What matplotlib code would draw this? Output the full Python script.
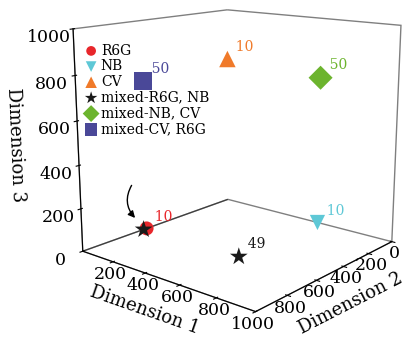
import matplotlib
matplotlib.use("Agg")
import matplotlib.pyplot as plt
import numpy as np

# data: (Dimension 1, Dimension 2, Dimension 3)
classes = ["R6G", "NB", "CV", "mixed-R6G, NB", "mixed-NB, CV", "mixed-CV, R6G"]
dim1 = [[0], [580], [0], [0, 580], [580], [0]]
dim2 = [[600], [0], [0], [620, 600], [0], [600]]
dim3 = [[0], [0], [750], [0, 0], [720], [720]]
counts = [["10"], ["10"], ["10"], ["", "49"], ["50"], ["50"]]

markers = ["o", "v", "^", "*", "D", "s"]
colors = ["#e8262b", "#5ec8d6", "#f07a2a", "#1a1a1a", "#6cb42e", "#4a4898"]
sizes = [100, 120, 140, 180, 150, 170]

plt.rcParams["font.family"] = ["DejaVu Serif"]

fig = plt.figure(figsize=(4.09, 3.39), dpi=100)
ax = fig.add_axes([0.073, 0.012, 1.0, 1.12], projection="3d")
ax.set_proj_type("persp", focal_length=0.45)
ax.set_box_aspect((1, 1, 1.0), zoom=1.0)

for i, name in enumerate(classes):
    # x = Dimension 2, y = Dimension 1
    ax.scatter(dim2[i], dim1[i], dim3[i], marker=markers[i], s=sizes[i],
               c=colors[i], depthshade=False, label=name, edgecolors="none")
    for d1, d2, d3, t in zip(dim1[i], dim2[i], dim3[i], counts[i]):
        if t:
            ax.text(d2, d1, d3 + 40, "  " + t, color=colors[i], fontsize=10)

ax.set_xlim(0, 1000)
ax.set_ylim(0, 1000)
ax.set_zlim(0, 1000)
ax.set_xticks([0, 200, 400, 600, 800])
ax.set_yticks([200, 400, 600, 800, 1000])
ax.set_zticks([0, 200, 400, 600, 800, 1000])
ax.tick_params(labelsize=12.5)
ax.tick_params(axis="x", pad=-6)
ax.tick_params(axis="y", pad=-6)
ax.tick_params(axis="z", pad=2)
ax.set_xlabel("Dimension 2", fontsize=13, labelpad=-6)
ax.set_ylabel("Dimension 1", fontsize=13, labelpad=-6)
ax.set_zlabel("Dimension 3", fontsize=13, labelpad=6)

for a in (ax.xaxis, ax.yaxis, ax.zaxis):
    a.pane.fill = False
    a.pane.set_edgecolor("black")
    a.line.set_color("black")
ax.grid(False)
ax.view_init(elev=14, azim=40)

ax.legend(loc="upper left", bbox_to_anchor=(80 / 409, 1 - 38 / 339),
          bbox_transform=fig.transFigure, frameon=False,
          fontsize=10, handlelength=0.8, handletextpad=0.3, labelspacing=0.12,
          markerscale=0.7, borderaxespad=0)

# curved arrow pointing at the star hidden behind R6G
ax.annotate("", xy=(137 / 409, 1 - 220 / 339), xycoords="figure fraction",
            xytext=(133 / 409, 1 - 183 / 339), textcoords="figure fraction",
            arrowprops=dict(arrowstyle="-|>", color="black", lw=1,
                            connectionstyle="arc3,rad=0.4"))

fig.savefig("out.png", dpi=100)
